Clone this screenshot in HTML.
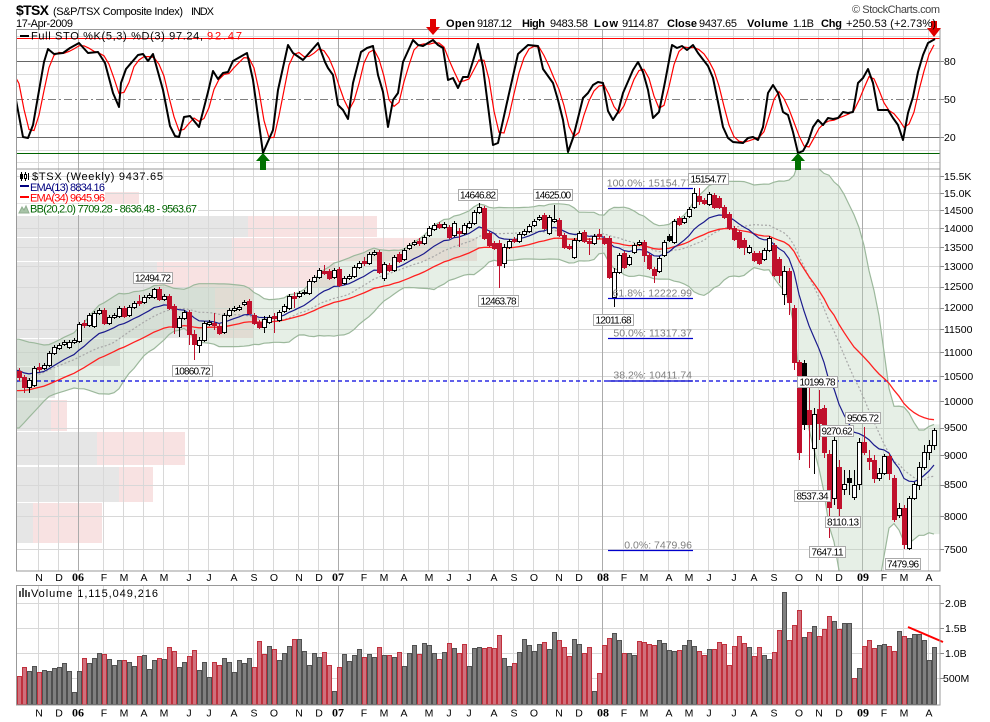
<!DOCTYPE html>
<html><head><meta charset="utf-8">
<style>
html,body{margin:0;padding:0;background:#fff;}
svg{display:block;font-family:"Liberation Sans",Arial,sans-serif;}
</style></head><body>
<svg id="c" width="990" height="722" viewBox="0 0 990 722" xmlns="http://www.w3.org/2000/svg">
<defs>
<clipPath id="cpMain"><rect x="16" y="169" width="924" height="402"/></clipPath>
<clipPath id="cpSto"><rect x="16" y="30" width="924" height="139"/></clipPath>
</defs>
<rect width="990" height="722" fill="#fff"/>
<g id="vbp" clip-path="url(#cpMain)"></g>
<g id="grid"></g>
<g id="bb" clip-path="url(#cpMain)"></g>
<!-- STO fixed lines -->
<g>
<line x1="16" y1="61.5" x2="940" y2="61.5" stroke="#666"/>
<line x1="16" y1="137.5" x2="940" y2="137.5" stroke="#666"/>
<line x1="16" y1="99.5" x2="940" y2="99.5" stroke="#808080" stroke-dasharray="8,3,2,3"/>
<line x1="16" y1="38.5" x2="940" y2="38.5" stroke="#ff0000"/>
<line x1="16" y1="153.5" x2="940" y2="153.5" stroke="#006400"/>
</g>
<g id="sto" clip-path="url(#cpSto)"></g>
<!-- 38.2 dashed -->
<line x1="16" y1="381" x2="940" y2="381" stroke="#0000dd" stroke-width="1.3" stroke-dasharray="4,3"/>
<g id="lines" clip-path="url(#cpMain)"></g>
<g id="cd" clip-path="url(#cpMain)"></g>
<g id="vol"></g>
<!-- volume trend line -->
<line x1="908" y1="627" x2="943" y2="642" stroke="#ff0000" stroke-width="2"/>

<!-- panel borders -->
<g fill="none" stroke="#999">
<rect x="16.5" y="29.5" width="923.5" height="139.5"/>
<rect x="16.5" y="169" width="923.5" height="402"/>
<rect x="16.5" y="585.5" width="923.5" height="119.5"/>
</g>

<!-- Fib lines & text -->
<g stroke="#0000cc" stroke-width="1.3">
<line x1="608" y1="188.5" x2="693" y2="188.5"/>
<line x1="608" y1="298.5" x2="693" y2="298.5"/>
<line x1="608" y1="338.5" x2="693" y2="338.5"/>
<line x1="608" y1="381" x2="693" y2="381"/>
<line x1="608" y1="550.5" x2="693" y2="550.5"/>
</g>
<g font-size="10.5" fill="#808080" text-anchor="end">
<text x="692" y="186.5">100.0%: 15154.77</text>
<text x="692" y="296.5">61.8%: 12222.99</text>
<text x="692" y="336.5">50.0%: 11317.37</text>
<text x="692" y="378.5">38.2%: 10411.74</text>
<text x="692" y="548.5">0.0%: 7479.96</text>
</g>

<!-- price labels -->
<g font-size="10" fill="#000" text-anchor="middle">
<g fill="#fff" stroke="#aaa">
<rect x="133.5" y="272.5" width="39" height="11"/>
<rect x="172.5" y="365.5" width="40" height="11"/>
<rect x="458.5" y="189.5" width="39" height="11"/>
<rect x="533.5" y="189.5" width="39" height="11"/>
<rect x="478.5" y="295.5" width="40" height="11"/>
<rect x="593.5" y="314.5" width="40" height="11"/>
<rect x="688.5" y="173.5" width="40" height="11"/>
<rect x="797.5" y="376.5" width="40" height="11"/>
<rect x="845.5" y="412.5" width="35" height="11"/>
<rect x="820.5" y="425.5" width="33" height="11"/>
<rect x="794.5" y="490.5" width="36" height="11"/>
<rect x="825.5" y="516.5" width="35" height="11"/>
<rect x="809.5" y="546.5" width="36" height="11"/>
<rect x="885.5" y="558.5" width="35" height="11"/>
</g>
<text x="153" y="281.5" textLength="36">12494.72</text>
<text x="192.5" y="374.5" textLength="36">10860.72</text>
<text x="478" y="198.5" textLength="36">14646.82</text>
<text x="553" y="198.5" textLength="36">14625.00</text>
<text x="498.5" y="304.5" textLength="36">12463.78</text>
<text x="613.5" y="323.5" textLength="36">12011.68</text>
<text x="708.5" y="182.5" textLength="36">15154.77</text>
<text x="817.5" y="385.5" textLength="36">10199.78</text>
<text x="863" y="421.5" textLength="32">9505.72</text>
<text x="837" y="434.5" textLength="31">9270.62</text>
<text x="812.5" y="499.5" textLength="32">8537.34</text>
<text x="843" y="525.5" textLength="32">8110.13</text>
<text x="827.5" y="555.5" textLength="32">7647.11</text>
<text x="903" y="567.5" textLength="32">7479.96</text>
</g>

<!-- arrows -->
<g fill="#e00000">
<rect x="430" y="19" width="6" height="9"/>
<polygon points="426,27 440,27 433,35"/>
<rect x="931" y="21" width="6" height="8"/>
<polygon points="927,28 941,28 934,37"/>
</g>
<g fill="#007000">
<polygon points="263,153 256,161 270,161"/>
<rect x="260" y="160" width="6" height="10"/>
<polygon points="798,153 791,161 805,161"/>
<rect x="795" y="160" width="6" height="10"/>
</g>

<!-- header -->
<text x="16" y="15" font-size="14" font-weight="bold" textLength="33">$TSX</text>
<text x="53" y="15" font-size="11" textLength="130">(S&amp;P/TSX Composite Index)</text>
<text x="191" y="15" font-size="11" textLength="23">INDX</text>
<text x="16" y="27" font-size="11" textLength="57">17-Apr-2009</text>
<text x="852" y="13" font-size="11" fill="#444" textLength="88">© StockCharts.com</text>
<g font-size="11">
<text x="446" y="27" font-weight="bold" textLength="29">Open</text>
<text x="477" y="27" textLength="35">9187.12</text>
<text x="522" y="27" font-weight="bold" textLength="23">High</text>
<text x="550" y="27" textLength="38">9483.58</text>
<text x="594" y="27" font-weight="bold" textLength="24">Low</text>
<text x="622" y="27" textLength="37">9114.87</text>
<text x="667" y="27" font-weight="bold" textLength="30">Close</text>
<text x="699" y="27" textLength="38">9437.65</text>
<text x="747" y="27" font-weight="bold" textLength="41">Volume</text>
<text x="793" y="27" textLength="21">1.1B</text>
<text x="821" y="27" font-weight="bold" textLength="21">Chg</text>
<text x="846" y="27" textLength="90">+250.53 (+2.73%)</text>
</g>

<!-- STO title -->
<rect x="20" y="35" width="9" height="2" fill="#000"/>
<text x="31" y="39.5" font-size="11" textLength="172">Full STO %K(5,3) %D(3) 97.24,</text>
<text x="207" y="39.5" font-size="11" fill="#ff0000" textLength="35">92.47</text>

<!-- main legend -->
<rect x="17" y="192" width="88" height="11" fill="#fff"/>
<rect x="17" y="204" width="181" height="11" fill="#fff"/>
<g>
<line x1="21.5" y1="172" x2="21.5" y2="181" stroke="#000"/>
<rect x="20" y="174" width="3" height="5" fill="#000"/>
<line x1="25.5" y1="172" x2="25.5" y2="181" stroke="#000"/>
<rect x="24.5" y="174.5" width="2" height="4" fill="#fff" stroke="#000"/>
<line x1="28.5" y1="173" x2="28.5" y2="180" stroke="#000"/>
</g>
<text x="32" y="180" font-size="11" textLength="131">$TSX (Weekly) 9437.65</text>
<rect x="20" y="185" width="9" height="2" fill="#000080"/>
<text x="30" y="191" font-size="11" fill="#000080" textLength="75">EMA(13) 8834.16</text>
<rect x="20" y="196" width="9" height="2" fill="#ff0000"/>
<text x="30" y="201.5" font-size="11" fill="#ff0000" textLength="75">EMA(34) 9645.96</text>
<polygon points="19,213 22,207 24,210 26,206 29,213" fill="#a8c4a8" stroke="#8fae8f"/>
<text x="30" y="212.5" font-size="11" fill="#006400" textLength="167">BB(20,2.0) 7709.28 - 8636.48 - 9563.67</text>

<!-- volume legend -->
<g fill="#555">
<rect x="19" y="591" width="2" height="6"/><rect x="22" y="588" width="2" height="9"/><rect x="25" y="590" width="2" height="7"/><rect x="28" y="592" width="2" height="5"/>
</g>
<text x="31" y="597" font-size="11" textLength="127">Volume 1,115,049,216</text>

<!-- right axis labels -->
<g font-size="10.5" fill="#000">
<text x="944" y="65">80</text>
<text x="944" y="103">50</text>
<text x="944" y="141">20</text>
<text x="944" y="180">15.5K</text>
<text x="944" y="197">15.0K</text>
<text x="944" y="214">14500</text>
<text x="944" y="232">14000</text>
<text x="944" y="251">13500</text>
<text x="944" y="270">13000</text>
<text x="944" y="290">12500</text>
<text x="944" y="311">12000</text>
<text x="944" y="333">11500</text>
<text x="944" y="356">11000</text>
<text x="944" y="380">10500</text>
<text x="944" y="405">10000</text>
<text x="944" y="431">9500</text>
<text x="944" y="459">9000</text>
<text x="944" y="488">8500</text>
<text x="944" y="520">8000</text>
<text x="944" y="553">7500</text>
<text x="945" y="607">2.0B</text>
<text x="945" y="632">1.5B</text>
<text x="945" y="657">1.0B</text>
<text x="943" y="682">500M</text>
</g>

<!-- month labels main -->
<g font-size="10.5" text-anchor="middle">
<text x="39" y="581">N</text><text x="59" y="581">D</text>
<text x="104" y="581">F</text><text x="124" y="581">M</text><text x="144" y="581">A</text><text x="164" y="581">M</text><text x="189" y="581">J</text><text x="209" y="581">J</text><text x="234" y="581">A</text><text x="254" y="581">S</text><text x="274" y="581">O</text><text x="299" y="581">N</text><text x="319" y="581">D</text>
<text x="364" y="581">F</text><text x="384" y="581">M</text><text x="404" y="581">A</text><text x="429" y="581">M</text><text x="449" y="581">J</text><text x="469" y="581">J</text><text x="494" y="581">A</text><text x="514" y="581">S</text><text x="534" y="581">O</text><text x="559" y="581">N</text><text x="579" y="581">D</text>
<text x="624" y="581">F</text><text x="644" y="581">M</text><text x="669" y="581">A</text><text x="689" y="581">M</text><text x="709" y="581">J</text><text x="734" y="581">J</text><text x="754" y="581">A</text><text x="774" y="581">S</text><text x="799" y="581">O</text><text x="819" y="581">N</text><text x="839" y="581">D</text>
<text x="884" y="581">F</text><text x="904" y="581">M</text><text x="929" y="581">A</text>
<text x="39" y="716.5">N</text><text x="59" y="716.5">D</text>
<text x="104" y="716.5">F</text><text x="124" y="716.5">M</text><text x="144" y="716.5">A</text><text x="164" y="716.5">M</text><text x="189" y="716.5">J</text><text x="209" y="716.5">J</text><text x="234" y="716.5">A</text><text x="254" y="716.5">S</text><text x="274" y="716.5">O</text><text x="299" y="716.5">N</text><text x="319" y="716.5">D</text>
<text x="364" y="716.5">F</text><text x="384" y="716.5">M</text><text x="404" y="716.5">A</text><text x="429" y="716.5">M</text><text x="449" y="716.5">J</text><text x="469" y="716.5">J</text><text x="494" y="716.5">A</text><text x="514" y="716.5">S</text><text x="534" y="716.5">O</text><text x="559" y="716.5">N</text><text x="579" y="716.5">D</text>
<text x="624" y="716.5">F</text><text x="644" y="716.5">M</text><text x="669" y="716.5">A</text><text x="689" y="716.5">M</text><text x="709" y="716.5">J</text><text x="734" y="716.5">J</text><text x="754" y="716.5">A</text><text x="774" y="716.5">S</text><text x="799" y="716.5">O</text><text x="819" y="716.5">N</text><text x="839" y="716.5">D</text>
<text x="884" y="716.5">F</text><text x="904" y="716.5">M</text><text x="929" y="716.5">A</text>
</g>
<g font-family="'Liberation Serif',serif" font-weight="bold" font-size="12" text-anchor="middle">
<text x="78" y="581">06</text><text x="338" y="581">07</text><text x="603" y="581">08</text><text x="863" y="581">09</text>
<text x="78" y="716.5">06</text><text x="338" y="716.5">07</text><text x="603" y="716.5">08</text><text x="863" y="716.5">09</text>
</g>
</svg>
<script>
(function(){
var NS='http://www.w3.org/2000/svg';
function el(tag,a,p){var e=document.createElementNS(NS,tag);for(var k in a)e.setAttribute(k,a[k]);p.appendChild(e);return e;}
function $(id){return document.getElementById(id);}
function Y(p){return 549-513.8*Math.log(p/7500);}
function P(y){return 7500*Math.exp((549-y)/513.8);}
function X(i){return 19+5*i;}
function pts(a){return a.map(function(p){return p[0].toFixed(1)+','+p[1].toFixed(1);}).join(' ');}

/* volume-by-price */
var V=$('vbp');
var bands=[[192,214,105,139],[216,237,248,377],[238,261,232,477],[262,287,157,335],[288,338,215,253],[339,366,120,120],[367,398,55,55],[400,431,51,67],[432,465,97,185],[467,502,119,153],[503,543,33,102]];
bands.forEach(function(b){
 el('rect',{x:17,y:b[0],width:b[2]-17,height:b[1]-b[0],fill:'#e6e6e6'},V);
 if(b[3]>b[2])el('rect',{x:b[2],y:b[0],width:b[3]-b[2],height:b[1]-b[0],fill:'#f8e2e2'},V);
});

/* grid */
var G=$('grid');
var months=[38,58,78,103,123,143,163,188,208,233,253,273,298,318,338,363,383,403,428,448,468,493,513,533,558,578,602,623,643,668,688,708,733,753,773,798,818,838,862,883,903,928];
var years=[78,338,602,862];
var ticks=[176.0,192.9,210.3,228.3,247.0,266.4,286.5,307.5,329.4,352.2,376.1,401.2,427.5,455.3,484.7,515.8,549];
ticks.forEach(function(y){y=Math.round(y)+.5;el('line',{x1:16,y1:y,x2:940,y2:y,stroke:'#d8d8d8'},G);el('line',{x1:940,y1:y,x2:944,y2:y,stroke:'#888'},G);});
for(var v=0;v<=100;v+=10){if(v==20||v==50||v==80)continue;var yy=Math.round(137-(v-20)*1.2667)+.5;el('line',{x1:16,y1:yy,x2:940,y2:yy,stroke:'#dcdcdc'},G);}
[61,99,137].forEach(function(y){el('line',{x1:940,y1:y+.5,x2:944,y2:y+.5,stroke:'#888'},G);});
[603,628,653,678].forEach(function(y){el('line',{x1:16,y1:y+.5,x2:940,y2:y+.5,stroke:'#d8d8d8'},G);el('line',{x1:940,y1:y+.5,x2:944,y2:y+.5,stroke:'#888'},G);});
months.forEach(function(m){var c=years.indexOf(m)>=0?'#ababab':'#d8d8d8';
 [[30,169],[169,571],[585,705]].forEach(function(r){el('line',{x1:m+.5,y1:r[0],x2:m+.5,y2:r[1],stroke:c},G);});});

/* candles */
var C=[['r',371,377,368,381],['r',377,387,375,393],['h',380,387,378,393],['h',368,385],['r',367,369,363,372],['h',365,368],['h',353,365],['h',347,353],['h',345,348],['h',342,344],
['h',342,347],['h',340,342],['h',324,341],['r',323,325,320,328],['h',315,325],['h',313,326],['h',310,313],['r',310,323],['h',317,323],['h',315,317],
['h',308,316],['r',308,316],['h',307,315],['h',303,307],['r',301,303,295,306],['h',297,302],['h',295,297],['h',289,297,288,299],['r',289,299],['h',296,299],
['r',296,308],['r',306,327,304,334],['h',318,327,316,337],['h',312,318],['r',312,334,310,345],['r',334,344,330,360],['h',340,345,337,353],['h',323,340],['h',322,324],['r',323,325,313,330],
['r',326,333],['h',315,332],['h',310,315],['h',308,310],['h',307,309],['h',302,304],['r',301,313],['r',315,323],['r',322,327],['h',319,327,316,333],
['h',317,322],['r',316,318,313,333],['h',312,320],['h',306,311],['h',296,308],['r',296,298,292,308],['h',293,296],['h',292,293],['h',281,293],['h',277,281],
['h',270,277],['r',271,273,265,275],['r',271,278],['h',270,277],['r',269,285],['h',278,283],['h',276,278],['h',267,276],['h',263,267],['r',261,263,257,266],
['h',254,263],['h',252,254],['r',252,272],['h',264,278,262,281],['r',265,270],['h',257,270],['r',254,261],['h',250,259],['h',245,248],['h',242,244],
['r',241,243,238,246],['h',237,243],['h',228,235],['h',225,229],['r',224,227],['h',224,227],['r',227,237],['h',223,235],['r',231,233,228,247],['h',225,233],
['h',223,227],['h',212,223],['h',207,212,203,214],['r',208,238],['r',233,245],['r',243,248],['r',243,265,240,288],['h',247,263,244,268],['h',241,247],['r',239,241],
['h',234,241],['h',231,234],['h',226,231],['h',221,225],['h',217,219],['r',215,228],['h',217,233],['h',219,221,205,223],['r',220,235],['r',235,247],
['r',246,248],['h',240,257],['h',233,240],['r',232,241],['r',241,243,238,255],['h',236,243],['r',234,236,229,239],['r',238,243],['r',238,277],['h',272,297,268,307],
['h',255,272],['r',253,267],['h',257,264],['h',245,252],['h',242,244],['r',242,255,240,262],['r',255,268],['r',269,275,267,283],['h',258,271],['h',242,255],
['k',236,240],['h',221,242],['r',218,224],['h',218,222],['h',209,216],['h',193,207,188,209],['r',196,201,188,205],['r',200,203],['h',194,204],['r',195,207],
['r',198,207],['r',207,217],['r',214,228],['r',228,239],['r',232,247],['r',240,247,238,255],['h',247,252],['r',253,260],['r',253,263],['h',250,259],
['h',238,250],['r',245,275],['r',259,275,257,283],['h',271,294,266,305],['r',271,302,268,315],['r',308,362,305,370],['r',362,452,360,460],['k',363,424,360,430],['r',410,424,388,468],['h',414,448,408,474],
['r',409,423,390,440],['r',408,452,405,458],['r',454,507,450,538],['h',440,498,436,505],['r',467,508,460,528],['h',484,489,470,495],['k',478,482,470,495],['h',485,497,470,500],['h',442,484,438,490],['r',442,452,427,455],
['r',458,461,450,470],['r',460,478,455,483],['h',473,478,468,481],['h',456,473],['r',456,473,453,480],['r',478,519,475,522],['h',508,515,503,518],['r',508,544,505,549],['h',498,548],['h',484,498],
['h',467,485,462,490],['h',452,467,445,470],['h',445,452,440,460],['h',430,445,428,450]];

var closes=C.map(function(c){return P(c[0]==='h'?c[1]:c[2]);});
var pre=[9600,9550,9450,9400,9350,9200,9300,9250,9400,9500,9600,9650,9700,9800,9850,9900,10000,10200,10300,10350,10400,10450,10500,10600,10700,10900,11000,11100,11050,10800];
var all=pre.concat(closes), n0=pre.length, N=C.length;
function ema(arr,n){var a=2/(n+1),e=arr[0];return arr.map(function(v,i){if(i>0)e=a*v+(1-a)*e;return e;});}
var e13=ema(all,13).slice(n0), e34=ema(all,34).slice(n0);
var up=[],lo=[],mid=[];
for(var j=n0;j<all.length;j++){var w=all.slice(j-19,j+1);var m=w.reduce(function(a,b){return a+b;},0)/20;var sd=Math.sqrt(w.reduce(function(a,b){return a+(b-m)*(b-m);},0)/20);up.push(m+2*sd);lo.push(m-2*sd);mid.push(m);}

/* BB */
var B=$('bb');
var U=[[16,Y(up[0])]],L=[[16,Y(lo[0])]],M=[[16,Y(mid[0])]];
for(var i=0;i<N;i++){U.push([X(i),Y(up[i])]);L.push([X(i),Y(lo[i])]);M.push([X(i),Y(mid[i])]);}
U.push([940,Y(up[N-1])]);L.push([940,Y(lo[N-1])]);
el('polygon',{points:pts(U.concat(L.slice().reverse())),fill:'#b8d0b8','fill-opacity':'0.35',stroke:'none'},B);
el('polyline',{points:pts(U.slice(0,-1)),fill:'none',stroke:'#9cb89c','stroke-width':'1.2'},B);
el('polyline',{points:pts(L.slice(0,-1)),fill:'none',stroke:'#9cb89c','stroke-width':'1.2'},B);
el('polyline',{points:pts(M),fill:'none',stroke:'#a8a8a8','stroke-width':'1.2','stroke-dasharray':'2,2'},B);

/* EMAs */
var Ln=$('lines');
var E1=[[16,Y(e13[0])]],E2=[[16,Y(e34[0])]];
for(i=0;i<N;i++){E1.push([X(i),Y(e13[i])]);E2.push([X(i),Y(e34[i])]);}
el('polyline',{points:pts(E2),fill:'none',stroke:'#ff2020','stroke-width':'1.3'},Ln);
el('polyline',{points:pts(E1),fill:'none',stroke:'#1a1a8c','stroke-width':'1.2'},Ln);

/* candles draw */
var CD=$('cd');
C.forEach(function(c,i){
 var x=X(i),t=c[0],top=c[1],bot=c[2];
 var hi=c.length>3?c[3]:top-2, lw=c.length>4?c[4]:bot+2;
 var col=t==='r'?'#c0102c':'#000';
 el('line',{x1:x+.5,y1:hi,x2:x+.5,y2:lw,stroke:col},CD);
 var h=Math.max(bot-top,1);
 el('rect',{x:x-1.5,y:top+.5,width:4,height:h,fill:t==='h'?'#fff':col,stroke:col},CD);
});

/* volume */
var VV=[['r',676],['r',667],['g',671],['g',666],['r',672],['g',670],['g',671],['g',668],['g',667],['g',663],
['g',671],['g',692],['g',671],['r',658],['g',663],['g',658],['g',653],['r',654],['g',659],['g',665],
['g',660],['r',660],['g',662],['g',666],['r',656],['g',655],['g',669],['g',660],['r',658],['g',659],
['r',647],['r',651],['g',667],['g',662],['r',656],['r',650],['g',670],['g',662],['g',677],['r',662],
['r',665],['g',658],['g',662],['g',672],['g',660],['g',663],['g',658],['r',667],['r',641],['r',654],
['g',646],['r',649],['g',660],['g',653],['g',646],['r',639],['g',639],['g',651],['g',665],['g',653],
['g',657],['r',652],['r',665],['g',691],['r',667],['g',654],['g',661],['g',655],['g',649],['r',657],
['g',654],['g',657],['r',647],['g',655],['r',655],['g',657],['r',652],['g',666],['g',653],['g',645],
['r',654],['g',643],['g',645],['g',653],['r',659],['g',652],['r',643],['g',648],['r',653],['r',644],
['g',666],['g',648],['g',647],['r',648],['r',647],['r',648],['r',635],
['g',658],['g',666],['r',663],['g',652],['g',639],['g',645],['g',651],['g',644],['r',642],['g',649],
['g',632],['r',640],['r',647],['r',656],['g',639],['g',644],['r',653],['r',647],['g',691],['r',673],
['r',645],['r',638],['g',633],['g',640],['r',653],['g',653],['g',655],['r',641],['r',642],['r',644],
['r',645],['g',640],['g',643],['g',650],['g',651],['r',650],['g',645],['g',640],['g',646],['r',651],
['r',655],['g',649],['r',649],['r',642],['r',644],['r',665],['r',646],['r',636],['r',643],['g',647],
['r',656],['r',647],['g',655],['g',659],['r',652],['r',630],['g',592],['r',640],['r',625],['r',610],
['g',637],['r',632],['g',626],['r',636],['r',629],['r',616],['g',621],['r',629],['g',623],['g',623],
['r',678],['g',668],['r',646],['r',640],['r',648],['g',645],['g',644],['r',646],['r',651],['g',631],
['r',636],['g',638],['g',634],['g',634],['g',640],['g',660],['g',647]];
var VO=$('vol');
VV.forEach(function(b,i){
 var x=X(i),top=b[1];
 el('rect',{x:x-1.5,y:top+.5,width:4,height:704.5-top-.5,fill:b[0]==='r'?'#d0707c':'#808080',stroke:b[0]==='r'?'#c0303c':'#505050'},VO);
});

/* STO */
var S=$('sto');
var K=[[16,100],[23,137],[28,138],[33,125],[44,62],[48,49],[54,54],[63,53],[70,48],[79,43],[88,53],[98,52],[105,63],[113,93],[119,107],[121,83],[126,69],[138,55],[143,54],[148,61],[153,54],[163,90],[170,126],[175,136],[179,137],[184,117],[190,116],[199,127],[208,92],[213,71],[218,79],[223,73],[228,72],[233,61],[247,53],[253,80],[263,153],[273,130],[278,90],[288,45],[293,53],[303,60],[318,43],[325,62],[328,68],[333,75],[338,105],[343,110],[348,119],[353,83],[361,52],[367,48],[373,46],[378,75],[383,92],[388,127],[393,100],[398,93],[403,62],[413,40],[418,45],[423,46],[433,40],[438,45],[443,48],[448,80],[453,78],[458,88],[463,77],[468,77],[473,61],[478,44],[483,67],[493,145],[498,143],[508,98],[518,54],[528,45],[538,46],[543,69],[553,83],[558,100],[563,120],[568,152],[573,138],[578,118],[583,98],[588,93],[593,85],[598,82],[603,83],[608,111],[613,120],[618,112],[623,93],[633,70],[638,62],[643,72],[648,90],[653,118],[659,112],[665,82],[672,45],[677,48],[682,46],[687,50],[693,45],[698,53],[708,66],[713,78],[718,102],[723,127],[728,138],[733,142],[743,143],[748,138],[753,137],[758,140],[763,127],[768,93],[773,85],[778,93],[783,112],[788,115],[793,132],[798,153],[803,151],[808,142],[813,127],[818,120],[823,125],[828,118],[833,119],[838,118],[843,112],[848,113],[853,112],[858,83],[863,78],[868,69],[873,83],[878,110],[883,110],[888,110],[893,118],[898,125],[903,140],[908,113],[913,97],[918,72],[923,55],[928,43],[935,39]];
function interp(x){if(x<=K[0][0])return K[0][1];for(var q=1;q<K.length;q++){if(x<=K[q][0]){var a=K[q-1],b=K[q];return a[1]+(b[1]-a[1])*(x-a[0])/(b[0]-a[0]);}}return K[K.length-1][1];}
var Kw=[60,75];for(i=0;i<N;i++)Kw.push(interp(X(i)));
var D=[[16,78]];for(i=0;i<N;i++){D.push([X(i),(Kw[i]+Kw[i+1]+Kw[i+2])/3]);}
el('polyline',{points:pts(D),fill:'none',stroke:'#ff0000','stroke-width':'1.2'},S);
el('polyline',{points:pts(K),fill:'none',stroke:'#000','stroke-width':'2','stroke-linejoin':'round'},S);
})();
</script>
</body></html>
